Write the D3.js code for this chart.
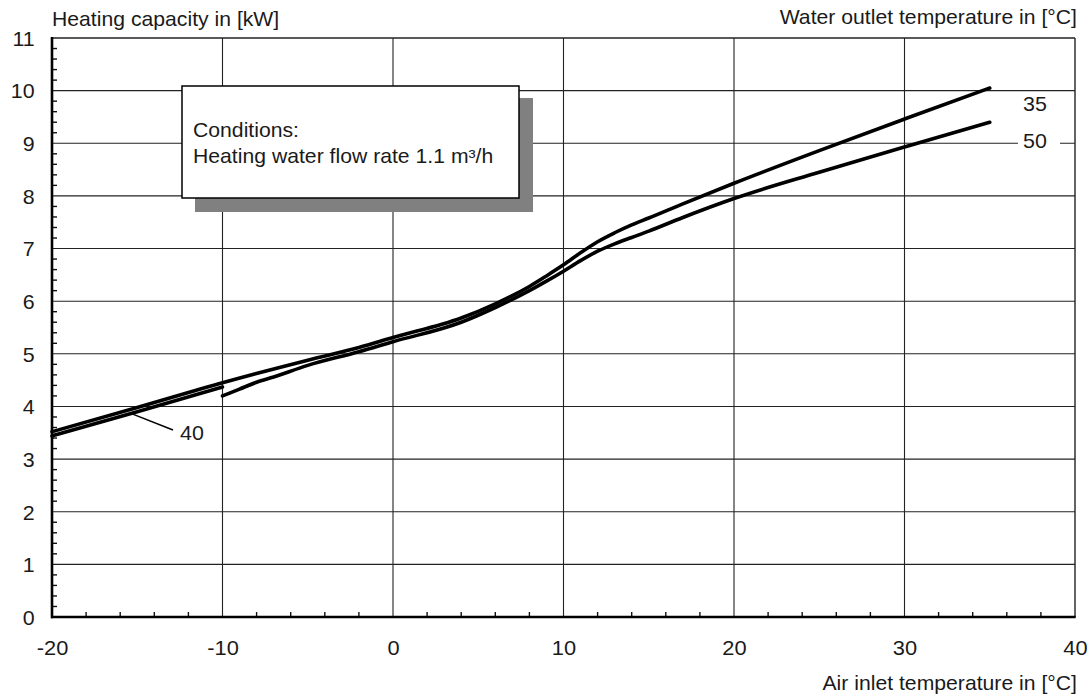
<!DOCTYPE html>
<html>
<head>
<meta charset="utf-8">
<script src="https://cdn.jsdelivr.net/npm/d3@7"></script>
<style>
  html, body { margin: 0; padding: 0; background: #fff; }
  svg { display: block; font-family: "Liberation Sans", Arial, Helvetica, sans-serif; }
</style>
</head>
<body>
<svg id="chart" width="1090" height="697"></svg>
<script>
// ---- data ----
const xTicks = [-20, -10, 0, 10, 20, 30, 40];
const yTicks = [0, 1, 2, 3, 4, 5, 6, 7, 8, 9, 10, 11];
const xMinor = [-18, -16, -14, -12, -8, -6, -4, -2, 2, 4, 6, 8, 12, 14, 16, 18, 22, 24, 26, 28, 32, 34, 36, 38];
const yMinorStep = [0.2, 0.4, 0.6, 0.8];

const temp35 = [-20, -15, -10, -5, -2, 0, 4, 6, 8, 9, 10, 11, 12, 13, 14, 15, 17, 20, 25, 30, 35];
const cap35  = [3.52, 3.98, 4.45, 4.88, 5.12, 5.31, 5.68, 5.95, 6.28, 6.48, 6.69, 6.92, 7.13, 7.30, 7.45, 7.58, 7.85, 8.24, 8.86, 9.46, 10.05];

const temp40 = [-20, -15, -10];
const cap40  = [3.44, 3.90, 4.37];

const temp50 = [-10, -9, -8, -7, -5, -2, 0, 4, 6, 8, 9, 10, 11, 12, 13, 14, 15, 17, 20, 25, 30, 35];
const cap50  = [4.20, 4.33, 4.46, 4.56, 4.78, 5.04, 5.23, 5.60, 5.88, 6.20, 6.38, 6.57, 6.77, 6.95, 7.09, 7.21, 7.33, 7.59, 7.95, 8.45, 8.93, 9.40];

const seriesNames = ["35", "40", "50"];

// ---- layout ----
const svg = d3.select("#chart");
const L = 52, R = 1075, T = 38, B = 617;
const x = d3.scaleLinear().domain([-20, 40]).range([L, R]);
const y = d3.scaleLinear().domain([0, 11]).range([B, T]);
const SX = 1.06;
const ink = "#1a1a1a";

function txt(px, py, s, opts = {}) {
  return svg.append("text")
    .attr("transform", `translate(${px},${py}) scale(${opts.sx || SX},1)`)
    .attr("text-anchor", opts.anchor || "start")
    .attr("font-size", opts.size || 20)
    .attr("fill", opts.fill || ink)
    .text(s);
}

// gridlines
const grid = svg.append("g").attr("stroke", "#222").attr("stroke-width", 1.1);
grid.selectAll("line.v").data(xTicks.filter(d => d > -20 && d < 40)).join("line")
  .attr("x1", d => x(d)).attr("x2", d => x(d)).attr("y1", T).attr("y2", B);
grid.selectAll("line.h").data(yTicks.filter(d => d > 0 && d < 11)).join("line")
  .attr("class", "h")
  .attr("x1", L).attr("x2", R).attr("y1", d => y(d)).attr("y2", d => y(d));

// minor ticks
const yMinor = [];
yTicks.slice(0, -1).forEach(t => yMinorStep.forEach(s => yMinor.push(+(t + s).toFixed(1))));
const ticks = svg.append("g").attr("stroke", "#111").attr("stroke-width", 1.4);
ticks.selectAll("line.ym").data(yMinor).join("line")
  .attr("x1", L).attr("x2", L + 5).attr("y1", d => y(d)).attr("y2", d => y(d));
ticks.selectAll("line.xm").data(xMinor).join("line")
  .attr("class", "xm")
  .attr("x1", d => x(d)).attr("x2", d => x(d)).attr("y1", B).attr("y2", B - 5);

// frame
svg.append("line").attr("x1", L).attr("x2", R).attr("y1", T).attr("y2", T).attr("stroke", "#222").attr("stroke-width", 1.4);
svg.append("line").attr("x1", R).attr("x2", R).attr("y1", T).attr("y2", B).attr("stroke", "#222").attr("stroke-width", 1.4);
svg.append("line").attr("x1", L).attr("x2", L).attr("y1", T - 1).attr("y2", B + 1.2).attr("stroke", "#000").attr("stroke-width", 2.6);
svg.append("line").attr("x1", L - 1).attr("x2", R + 0.7).attr("y1", B).attr("y2", B).attr("stroke", "#000").attr("stroke-width", 2.6);

// axes (labels)
const xAxis = svg.append("g").attr("transform", `translate(0,${B})`)
  .call(d3.axisBottom(x).tickValues(xTicks).tickSize(0).tickFormat(d => String(d)));
xAxis.select(".domain").remove();
xAxis.selectAll("text")
  .attr("y", 38).attr("dy", null)
  .attr("font-size", 21).attr("fill", ink)
  .attr("font-family", "Liberation Sans, Arial, sans-serif")
  .attr("transform", "scale(1.04,1)");

const yAxis = svg.append("g").attr("transform", `translate(${L},0)`)
  .call(d3.axisLeft(y).tickValues(yTicks).tickSize(0).tickFormat(d => String(d)));
yAxis.select(".domain").remove();
yAxis.selectAll("text")
  .attr("x", -17).attr("dy", "0.35em")
  .attr("font-size", 21).attr("fill", ink)
  .attr("font-family", "Liberation Sans, Arial, sans-serif")
  .attr("transform", "scale(1.02,1)");

// condition box
svg.append("rect").attr("x", 195).attr("y", 98).attr("width", 338).attr("height", 114).attr("fill", "#808080");
svg.append("rect").attr("x", 182).attr("y", 86).attr("width", 337).attr("height", 112)
  .attr("fill", "#fff").attr("stroke", "#000").attr("stroke-width", 1.5);
txt(193, 137, "Conditions:");
txt(193, 163, "Heating water flow rate 1.1 m³/h");

// curves
const line = d3.line().x(d => x(d[0])).y(d => y(d[1])).curve(d3.curveMonotoneX);
const series = [
  d3.zip(temp35, cap35),
  d3.zip(temp40, cap40),
  d3.zip(temp50, cap50)
];
svg.append("g").selectAll("path").data(series).join("path")
  .attr("d", line)
  .attr("fill", "none").attr("stroke", "#000").attr("stroke-width", 3.6)
  .attr("stroke-linecap", "round").attr("stroke-linejoin", "round");

// series labels
svg.append("rect").attr("x", 1018).attr("y", 129).attr("width", 42).attr("height", 23).attr("fill", "#fff");
txt(1023, 111, seriesNames[0], { size: 21, sx: 1.02 });
txt(1023, 148, seriesNames[2], { size: 21, sx: 1.02 });
svg.append("line").attr("x1", x(-15.3)).attr("y1", y(3.86)).attr("x2", 173).attr("y2", 430)
  .attr("stroke", "#000").attr("stroke-width", 1.5);
txt(180, 440, seriesNames[1], { size: 21, sx: 1.02 });

// titles
txt(52, 26, "Heating capacity in [kW]");
txt(1077, 24, "Water outlet temperature in [°C]", { anchor: "end" });
txt(1077, 690, "Air inlet temperature in [°C]", { anchor: "end" });
</script>
</body>
</html>
